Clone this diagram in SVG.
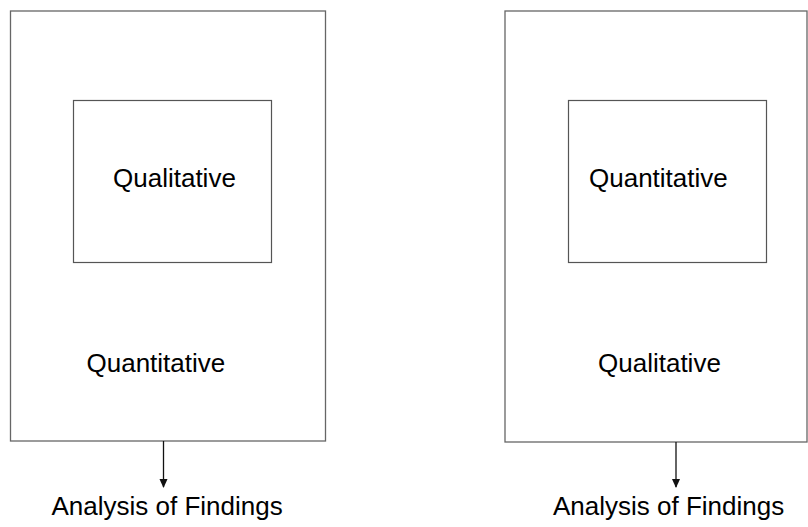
<svg xmlns="http://www.w3.org/2000/svg" width="808" height="527" viewBox="0 0 808 527">
  <style>
    .box { fill: #ffffff; stroke: #666666; stroke-width: 1.3; }
    .inner { fill: #ffffff; stroke: #555555; stroke-width: 1.2; }
    .label { font-family: "Liberation Sans", Arial, sans-serif; font-size: 26px; fill: #000000; }
    .conn { stroke: #111111; stroke-width: 1.3; fill: none; }
  </style>
  <defs>
    <marker id="arrowhead" markerWidth="9" markerHeight="9" refX="8" refY="4.5" orient="auto" markerUnits="userSpaceOnUse">
      <path d="M0,0.5 L9,4.5 L0,8.5 Z" fill="#111111"/>
    </marker>
  </defs>
  <rect width="808" height="527" fill="#ffffff"/>

  <!-- Left design: qualitative embedded in quantitative -->
  <g id="left-outer">
    <rect class="box" x="10.5" y="11" width="315" height="430"/>
    <text class="label" x="86.5" y="371.5">Quantitative</text>
  </g>
  <g id="left-inner">
    <rect class="inner" x="73.5" y="100.5" width="198" height="162"/>
    <text class="label" x="113" y="187">Qualitative</text>
  </g>
  <g id="left-findings">
    <text class="label" x="51.5" y="515">Analysis of Findings</text>
  </g>

  <!-- Right design: quantitative embedded in qualitative -->
  <g id="right-outer">
    <rect class="box" x="505" y="11" width="302" height="431"/>
    <text class="label" x="598" y="372">Qualitative</text>
  </g>
  <g id="right-inner">
    <rect class="inner" x="568.5" y="100.5" width="198" height="162"/>
    <text class="label" x="589" y="186.5">Quantitative</text>
  </g>
  <g id="right-findings">
    <text class="label" x="553" y="515">Analysis of Findings</text>
  </g>

  <g id="connectors">
    <line class="conn" x1="163.5" y1="441" x2="163.5" y2="487" marker-end="url(#arrowhead)"/>
    <line class="conn" x1="676" y1="442" x2="676" y2="487" marker-end="url(#arrowhead)"/>
  </g>
</svg>
